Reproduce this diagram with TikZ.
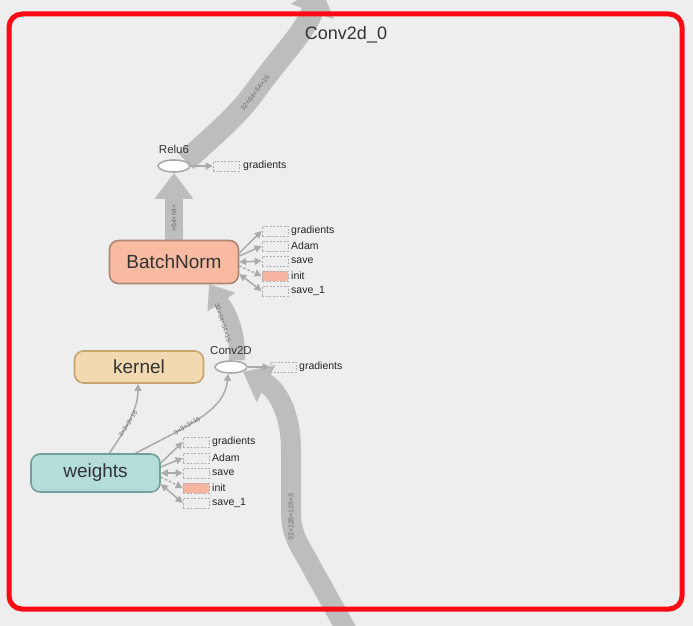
\documentclass[tikz,border=0pt]{standalone}
\usepackage{fontspec}
\setmainfont{Liberation Sans}
\usetikzlibrary{arrows.meta,shapes.geometric}
\definecolor{bgc}{HTML}{EEEEEE}
\definecolor{framec}{HTML}{FF0A14}
\definecolor{flowc}{HTML}{BDBDBD}
\definecolor{thinc}{HTML}{AAAAAA}
\definecolor{txtc}{HTML}{333333}
\definecolor{lblc}{HTML}{707070}
\definecolor{bnfill}{HTML}{F8BBA2}
\definecolor{bnline}{HTML}{AE8672}
\definecolor{kfill}{HTML}{F3D9B1}
\definecolor{kline}{HTML}{C5A46E}
\definecolor{wfill}{HTML}{B4DCD9}
\definecolor{wline}{HTML}{73A09C}
\definecolor{initfill}{HTML}{F7B4A0}
\definecolor{boxline}{HTML}{B0B0B0}
\pgfdeclarelayer{bglayer}
\pgfdeclarelayer{edgelayer}
\pgfsetlayers{bglayer,edgelayer,main}
\begin{document}
\begin{tikzpicture}[x=1pt,y=-1pt,
  opbox/.style={rounded corners=9pt, line width=1.6pt, inner sep=0pt,
    font=\fontsize{19}{22}\selectfont, text=txtc},
  opell/.style={ellipse, draw=thinc, fill=white, line width=1.6pt,
    minimum width=32pt, minimum height=12pt, inner sep=0pt},
  oplabel/.style={font=\fontsize{11.5}{13}\selectfont, text=txtc, inner sep=0pt},
  sidebox/.style={draw=boxline, dashed, dash pattern=on 2pt off 1.5pt, line width=0.7pt,
    minimum width=26pt, minimum height=10pt, inner sep=0pt},
  sidetext/.style={font=\fontsize{10.5}{12}\selectfont, text=black!85, anchor=west, inner sep=0pt},
  elabel/.style={font=\fontsize{7}{8}\selectfont, text=lblc, inner sep=0pt},
  slabel/.style={font=\fontsize{6.5}{7}\selectfont, text=lblc, inner sep=0pt},
  flow/.style={draw=flowc, line cap=butt},
  thinarrow/.style={draw=thinc, line width=1.5pt, -{Triangle[length=7pt,width=7pt]}},
  thinboth/.style={draw=thinc, line width=1.5pt, {Triangle[length=7pt,width=7pt]}-{Triangle[length=7pt,width=7pt]}},
  thindash/.style={draw=thinc, line width=1.5pt, dashed, dash pattern=on 2.5pt off 2pt, -{Triangle[length=7pt,width=7pt]}}
]
\useasboundingbox (0,0) rectangle (693,626);
\clip (0,0) rectangle (693,626);
\begin{pgfonlayer}{bglayer}
\fill[bgc] (0,0) rectangle (693,626);
\end{pgfonlayer}

% frame and title
\draw[framec, line width=5pt, rounded corners=13pt] (9,14) rectangle (682,609);
\node[font=\fontsize{18}{20}\selectfont, text=txtc, inner sep=0pt] (title) at (346,35) {Conv2d\_0};

% op nodes
\node[opbox, fill=bnfill, draw=bnline, minimum width=129pt, minimum height=43pt] (bn) at (174,262) {BatchNorm};
\node[opbox, fill=kfill, draw=kline, minimum width=129pt, minimum height=32pt] (kernel) at (139,367) {kernel};
\node[opbox, fill=wfill, draw=wline, minimum width=129pt, minimum height=38pt] (weights) at (95.5,473) {weights};

\node[opell] (relu) at (174,166) {};
\node[oplabel] (relulab) at (174,149) {Relu6};
\node[opell] (conv) at (231,367) {};
\node[oplabel] (convlab) at (231,351) {Conv2D};

% free ends of the big flows
\coordinate (outtop) at (321,-13);
\coordinate (inbot) at (352,640);
\coordinate (bnin) at (209,284);

% side boxes of Relu6 and Conv2D
\node[sidebox] (relug) at (226,166) {};
\node[sidetext] (relugt) at (243,166) {gradients};
\node[sidebox] (convg) at (283,367) {};
\node[sidetext] (convgt) at (299,367) {gradients};

% side boxes of BatchNorm
\node[sidebox] (bn1) at (275,231) {};
\node[sidebox] (bn2) at (275,246) {};
\node[sidebox] (bn3) at (275,261) {};
\node[sidebox, fill=initfill] (bn4) at (275,276) {};
\node[sidebox] (bn5) at (275,291) {};
\node[sidetext] (bn1t) at (291,231) {gradients};
\node[sidetext] (bn2t) at (291,246) {Adam};
\node[sidetext] (bn3t) at (291,261) {save};
\node[sidetext] (bn4t) at (291,276) {init};
\node[sidetext] (bn5t) at (291,291) {save\_1};

% side boxes of weights
\node[sidebox] (w1) at (196,442) {};
\node[sidebox] (w2) at (196,458) {};
\node[sidebox] (w3) at (196,473) {};
\node[sidebox, fill=initfill] (w4) at (196,488) {};
\node[sidebox] (w5) at (196,503) {};
\node[sidetext] (w1t) at (212,442) {gradients};
\node[sidetext] (w2t) at (212,458) {Adam};
\node[sidetext] (w3t) at (212,473) {save};
\node[sidetext] (w4t) at (212,488) {init};
\node[sidetext] (w5t) at (212,503) {save\_1};

\begin{pgfonlayer}{edgelayer}
% big data flows
\draw[flow, line width=22pt, -{Triangle[length=26pt,width=44pt]}]
  (relu.north east) .. controls (210,138) and (236,118) .. (256,90)
  .. controls (282,54) and (305,32) .. (outtop);
\draw[flow, line width=18pt, -{Triangle[length=26pt,width=37pt]}]
  (bn.north) -- (relu.south);
\draw[flow, line width=16pt, -{Triangle[length=22pt,width=32pt]}]
  ([xshift=6pt]conv.north) .. controls (238,330) and (228,312) .. (bnin);
\draw[flow, line width=20pt, -{Triangle[length=26pt,width=40pt]}]
  (inbot) -- (302,550) .. controls (293,535) and (291,525) .. (291,510) -- (291,450)
  .. controls (291,410) and (275,388) .. (conv.south east);

% thin edges
\draw[thinarrow] ([xshift=14pt]weights.north) .. controls (125,430) and (138,410) .. ([xshift=-1pt]kernel.south);
\draw[thinarrow] ([xshift=40pt]weights.north) .. controls (190,425) and (225,410) .. ([xshift=-3pt]conv.south);

\draw[thinarrow] (relu.east) -- (relug.west);
\draw[thinarrow] (conv.east) -- (convg.west);

\draw[thinarrow] ([yshift=9pt]bn.east) -- (bn1.west);
\draw[thinarrow] ([yshift=6pt]bn.east) -- (bn2.west);
\draw[thinboth] ([yshift=0pt]bn.east) -- (bn3.west);
\draw[thindash] ([yshift=-4pt]bn.east) -- (bn4.west);
\draw[thinboth] ([yshift=-12pt]bn.east) -- (bn5.west);

\draw[thinarrow] ([yshift=10pt]weights.east) -- (w1.west);
\draw[thinarrow] ([yshift=6pt]weights.east) -- (w2.west);
\draw[thinboth] ([yshift=0pt]weights.east) -- (w3.west);
\draw[thindash] ([yshift=-4pt]weights.east) -- (w4.west);
\draw[thinboth] ([yshift=-11pt]weights.east) -- (w5.west);
\end{pgfonlayer}

% edge labels
\node[elabel, rotate=53] (l1) at (255,93) {32×64×64×16};
\node[elabel, rotate=90] (l2) at (174,218) {×64×64×};
\node[slabel, rotate=-72] (l3) at (223,323) {32×64×64×16};
\node[elabel, rotate=90] (l4) at (291,517) {32×128×128×3};
\node[slabel, rotate=57] (l5) at (128,424) {3×3×3×16};
\node[slabel, rotate=32] (l6) at (187,426) {3×3×3×16};
\end{tikzpicture}
\end{document}
